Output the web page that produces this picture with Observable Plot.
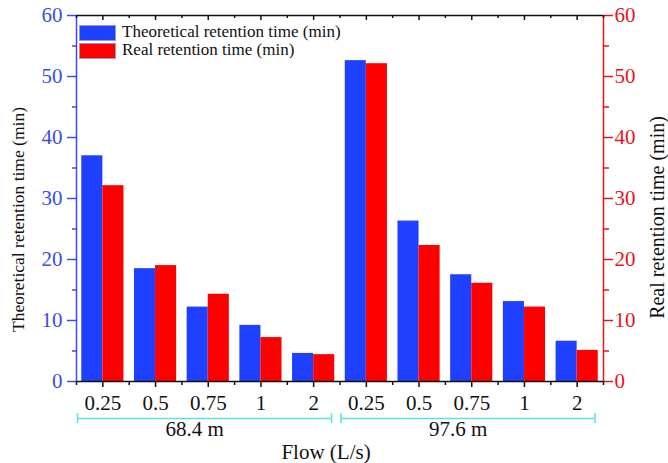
<!DOCTYPE html>
<html>
<head>
<meta charset="utf-8">
<script src="https://cdn.jsdelivr.net/npm/d3@7"></script>
<script src="https://cdn.jsdelivr.net/npm/@observablehq/plot@0.6"></script>
<style>
  html, body { margin: 0; padding: 0; background: #fff; }
  #wrap { position: relative; width: 668px; height: 463px; }
  #wrap svg text { font-family: 'Liberation Serif', 'Times New Roman', serif; }
  .leg { position: absolute; font-family: 'Liberation Serif', serif; font-size: 17px; line-height: 17px; color: #111; white-space: nowrap; }
  .sw { position: absolute; width: 37px; height: 16px; box-sizing: border-box; border: 1px solid #9a9ab0; }
</style>
</head>
<body>
<div id="wrap"></div>
<script>
// ---- data ----
const flows = ["0.25", "0.5", "0.75", "1", "2"];
const distances = ["68.4 m", "97.6 m"];
const theoretical = [37.0, 18.5, 12.2, 9.2, 4.6, 52.6, 26.3, 17.5, 13.1, 6.6];
const real = [32.1, 19.0, 14.3, 7.2, 4.4, 52.1, 22.3, 16.1, 12.2, 5.1];
const yMajor = [0, 10, 20, 30, 40, 50, 60];
const yMinor = [5, 15, 25, 35, 45, 55];
const seriesNames = ["Theoretical retention time (min)", "Real retention time (min)"];

const SERIF = "'Liberation Serif', 'Times New Roman', serif";
const BLUE = "#2040ff";
const RED = "#ff0000";
const AXBLUE = "#3a4ee2";
const AXRED = "#e8141c";
const CYAN = "#5fe0e6";

const rows = [];
distances.forEach((dist, g) => flows.forEach((f, j) => {
  const i = g * flows.length + j;
  rows.push({i, dist, flow: f, theo: theoretical[i], real: real[i]});
}));
const centers = rows.map(d => d.i);
const bounds = d3.range(-0.5, rows.length, 1);
const groups = distances.map((dist, g) => ({dist, first: g * flows.length, last: g * flows.length + flows.length - 1}));

const chart = Plot.plot({
  width: 668, height: 463,
  marginLeft: 76, marginRight: 65, marginTop: 15, marginBottom: 82,
  style: {fontFamily: SERIF, background: "white", color: "#111", overflow: "visible"},
  x: {type: "linear", domain: [-0.5, rows.length - 0.5], axis: null},
  y: {domain: [0, 60]},
  marks: [
    Plot.rectY(rows, {x1: d => d.i - 0.4, x2: d => d.i, y1: 0, y2: "theo", fill: BLUE}),
    Plot.rectY(rows, {x1: d => d.i, x2: d => d.i + 0.4, y1: 0, y2: "real", fill: RED}),
    // frame lines
    Plot.ruleY([0, 60], {stroke: "#111", strokeWidth: 1.5}),
    Plot.ruleX([-0.5], {stroke: AXBLUE, strokeWidth: 1.5}),
    Plot.ruleX([rows.length - 0.5], {stroke: AXRED, strokeWidth: 1.5}),
    // left axis ticks + labels
    Plot.axisY({anchor: "left", ticks: yMajor, tickSize: 9, tickFormat: () => "", color: AXBLUE, label: null, strokeWidth: 1.5}),
    Plot.axisY({anchor: "left", ticks: yMinor, tickSize: 4, tickFormat: () => "", color: AXBLUE, label: null, strokeWidth: 1.5}),
    Plot.text(yMajor, {y: d => d, text: d => String(d), frameAnchor: "left", textAnchor: "end", dx: -14, lineAnchor: "middle", fontSize: 21, fontFamily: SERIF, fill: AXBLUE}),
    // right axis ticks + labels
    Plot.axisY({anchor: "right", ticks: yMajor, tickSize: 9, tickFormat: () => "", color: AXRED, label: null, strokeWidth: 1.5}),
    Plot.axisY({anchor: "right", ticks: yMinor, tickSize: 5, tickFormat: () => "", color: AXRED, label: null, strokeWidth: 1.5}),
    Plot.text(yMajor, {y: d => d, text: d => String(d), frameAnchor: "right", textAnchor: "start", dx: 11, lineAnchor: "middle", fontSize: 21, fontFamily: SERIF, fill: AXRED}),
    // bottom ticks (outward)
    Plot.ruleX(centers, {x: d => d, y1: 0, y2: 0, insetBottom: -6, stroke: "#111", strokeWidth: 1.5}),
    Plot.ruleX(bounds, {x: d => d, y1: 0, y2: 0, insetBottom: -4, stroke: "#111", strokeWidth: 1.5}),
    // top ticks (inward)
    Plot.ruleX(centers, {x: d => d, y1: 60, y2: 60, insetBottom: -5, stroke: "#111", strokeWidth: 1.5}),
    Plot.ruleX(bounds, {x: d => d, y1: 60, y2: 60, insetBottom: -3, stroke: "#111", strokeWidth: 1.5}),
    // category labels
    Plot.text(rows, {x: "i", text: "flow", frameAnchor: "bottom", dy: 21.5, lineAnchor: "middle", fontSize: 21, fontFamily: SERIF, fill: "#111"}),
    // group brackets
    Plot.ruleY(groups, {y: 0, x1: d => d.first - 0.48, x2: d => d.last + 0.34, dy: 37, stroke: CYAN, strokeWidth: 1.5}),
    Plot.ruleX(groups.flatMap(d => [d.first - 0.48, d.last + 0.34]), {x: d => d, y1: 0, y2: 0, dy: 37, insetTop: -5, insetBottom: -5, stroke: CYAN, strokeWidth: 1.5}),
    Plot.text(groups, {x: d => (d.first + d.last) / 2 - 0.07, text: "dist", frameAnchor: "bottom", dy: 48, dx: -10, lineAnchor: "middle", fontSize: 21, fontFamily: SERIF, fill: "#111"}),
    // axis titles
    Plot.text(["Flow (L/s)"], {frameAnchor: "bottom", textAnchor: "middle", dx: -14, dy: 70.5, lineAnchor: "middle", fontSize: 21, fontFamily: SERIF, fill: "#111"}),
    Plot.text([seriesNames[0]], {frameAnchor: "left", textAnchor: "middle", rotate: -90, dx: -58, dy: 21, lineAnchor: "middle", fontSize: 17.5, fontFamily: SERIF, fill: "#111"}),
    Plot.text([seriesNames[1]], {frameAnchor: "right", textAnchor: "middle", rotate: -90, dx: 54, dy: 19, lineAnchor: "middle", fontSize: 20, fontFamily: SERIF, fill: "#111"})
  ]
});

const wrap = document.getElementById("wrap");
wrap.appendChild(chart);

// legend overlay
const legendColors = [BLUE, RED];
seriesNames.forEach((name, k) => {
  const sw = document.createElement("div");
  sw.className = "sw";
  sw.style.left = "79px";
  sw.style.top = (25 + k * 18.3) + "px";
  sw.style.background = legendColors[k];
  wrap.appendChild(sw);
  const t = document.createElement("div");
  t.className = "leg";
  t.style.left = "122px";
  t.style.top = (22.5 + k * 18.3) + "px";
  t.textContent = name;
  wrap.appendChild(t);
});
</script>
</body>
</html>
